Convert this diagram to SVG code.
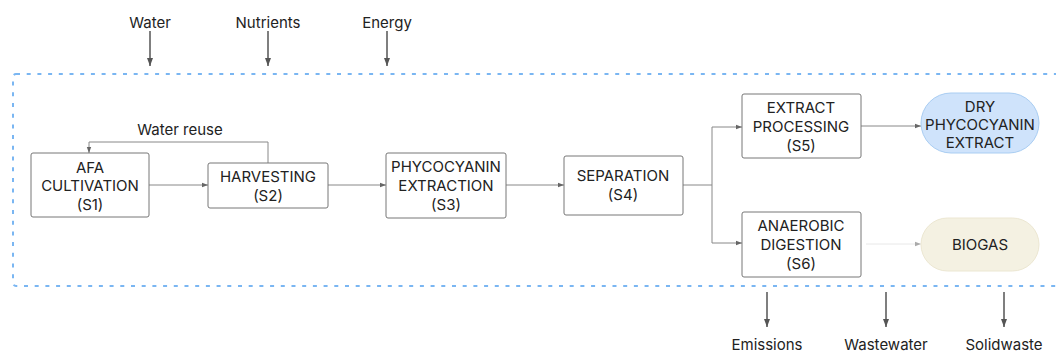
<svg xmlns="http://www.w3.org/2000/svg" width="1056" height="352" viewBox="0 0 1056 352">
<style>
text{font-family:Inter,"Liberation Sans",sans-serif;font-size:15px;fill:#222;text-anchor:middle}
.box{fill:#fff;stroke:#777;stroke-width:1}
.c{fill:none;stroke:#888;stroke-width:1}
.faint{fill:none;stroke:#e8e8e8;stroke-width:1}
.io{fill:none;stroke:#555;stroke-width:1.5}
</style>
<defs>
<marker id="a" viewBox="0 0 6 6" refX="6" refY="3" markerWidth="6" markerHeight="6" orient="auto" markerUnits="userSpaceOnUse"><path d="M0,0.8L6,3L0,5.2z" fill="#666"/></marker>
<marker id="f" viewBox="0 0 6 6" refX="6" refY="3" markerWidth="6" markerHeight="6" orient="auto" markerUnits="userSpaceOnUse"><path d="M0,0.8L6,3L0,5.2z" fill="#aaa"/></marker>
<marker id="b" viewBox="0 0 8 8" refX="8" refY="4" markerWidth="8" markerHeight="8" orient="auto" markerUnits="userSpaceOnUse"><path d="M0,1L8,4L0,7z" fill="#555"/></marker>
</defs>
<rect x="13" y="74" width="1060" height="212" rx="3" fill="none" stroke="#7ab6f2" stroke-width="2" stroke-dasharray="4 6.7"/>
<g id="connectors">
<path class="io" d="M150,31V66" marker-end="url(#b)"/>
<path class="io" d="M268,31V66" marker-end="url(#b)"/>
<path class="io" d="M387,31V66" marker-end="url(#b)"/>
<path class="io" d="M767,292V327" marker-end="url(#b)"/>
<path class="io" d="M886,292V327" marker-end="url(#b)"/>
<path class="io" d="M1004,292V327" marker-end="url(#b)"/>
<path class="c" d="M149,185H208" marker-end="url(#a)"/>
<path class="c" d="M328,185H386" marker-end="url(#a)"/>
<path class="c" d="M506,185H564" marker-end="url(#a)"/>
<path class="c" d="M683,185H712V127H742" marker-end="url(#a)"/>
<path class="c" d="M712,185V243H742" marker-end="url(#a)"/>
<path class="c" d="M861,126H921" marker-end="url(#a)"/>
<path class="faint" d="M866,244H921" marker-end="url(#f)"/>
<path class="c" d="M268,163V142H89V153" marker-end="url(#a)"/>
<text x="180" y="135">Water reuse</text>
</g>
<g id="labels">
<text x="150" y="28">Water</text>
<text x="268" y="28">Nutrients</text>
<text x="387" y="28">Energy</text>
<text x="767" y="350">Emissions</text>
<text x="886" y="350">Wastewater</text>
<text x="1004" y="350">Solidwaste</text>
</g>
<g id="s1"><rect class="box" x="31" y="153" width="118" height="64" rx="2"/><text x="90" y="173">AFA</text><text x="90" y="191">CULTIVATION</text><text x="90" y="210">(S1)</text></g>
<g id="s2"><rect class="box" x="208" y="163" width="120" height="45" rx="2"/><text x="268" y="182">HARVESTING</text><text x="268" y="201">(S2)</text></g>
<g id="s3"><rect class="box" x="386" y="153" width="120" height="65" rx="2"/><text x="446" y="172">PHYCOCYANIN</text><text x="446" y="191">EXTRACTION</text><text x="446" y="210">(S3)</text></g>
<g id="s4"><rect class="box" x="564" y="156" width="119" height="59" rx="2"/><text x="623" y="181">SEPARATION</text><text x="623" y="200">(S4)</text></g>
<g id="s5"><rect class="box" x="742" y="94" width="119" height="64" rx="2"/><text x="801" y="113">EXTRACT</text><text x="801" y="132">PROCESSING</text><text x="801" y="151">(S5)</text></g>
<g id="s6"><rect class="box" x="742" y="212" width="119" height="65" rx="2"/><text x="801" y="231">ANAEROBIC</text><text x="801" y="250">DIGESTION</text><text x="801" y="269">(S6)</text></g>
<g id="dry"><rect x="921" y="93" width="118" height="60" rx="30" fill="#cfe3fb" stroke="#a9cdf2" stroke-width="1"/><text x="980" y="112">DRY</text><text x="980" y="130">PHYCOCYANIN</text><text x="980" y="148">EXTRACT</text></g>
<g id="biogas"><rect x="921" y="218" width="118" height="53" rx="26.5" fill="#f4f1e2" stroke="#ece7d2" stroke-width="1"/><text x="980" y="250">BIOGAS</text></g>
</svg>
